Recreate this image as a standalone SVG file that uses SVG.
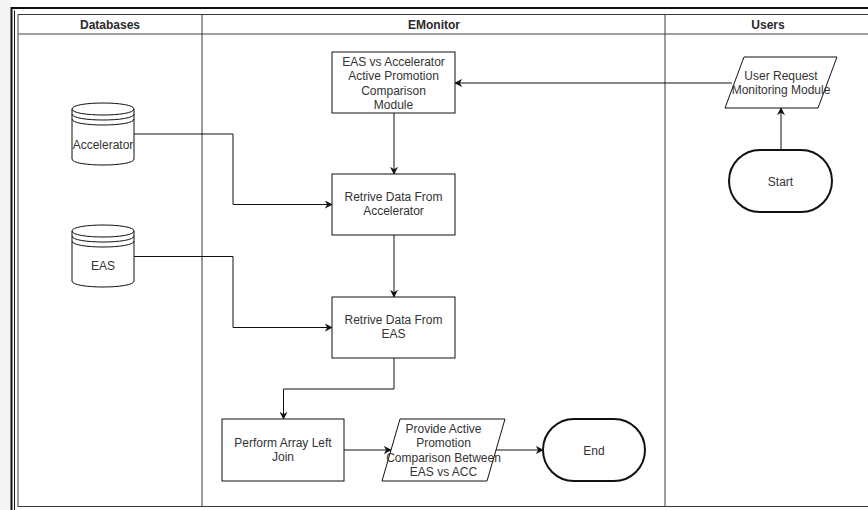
<svg xmlns="http://www.w3.org/2000/svg" width="868" height="510" viewBox="0 0 868 510">
  <style>
    text { font-family: "Liberation Sans", Arial, sans-serif; font-size: 12px; fill: #333333; text-anchor: middle; }
    .hdr { font-weight: bold; fill: #2a2a2a; }
    .lane { fill: none; stroke: #3a3a3a; stroke-width: 1; }
    .sep { fill: none; stroke: #808080; stroke-width: 1.6; }
    .shape { fill: #ffffff; stroke: #111111; stroke-width: 1; }
    .term { fill: #ffffff; stroke: #111111; stroke-width: 2; }
    .edge { fill: none; stroke: #111111; stroke-width: 1; }
  </style>
  <defs>
    <marker id="arrow" viewBox="0 0 10 10" refX="9" refY="5" markerWidth="8" markerHeight="8" markerUnits="userSpaceOnUse" orient="auto">
      <path d="M0,0 L10,5 L0,10 L3,5 Z" fill="#111111"/>
    </marker>
  </defs>

  <rect x="0" y="0" width="868" height="510" fill="#ffffff"/>
  <rect x="0" y="0" width="11" height="510" fill="#f3f4f6"/>

  <!-- window frame -->
  <path d="M11.5,510 V8 H868" fill="none" stroke="#111" stroke-width="2"/>
  <path d="M14.5,510 V10.5" fill="none" stroke="#111" stroke-width="1"/>

  <!-- swimlane table -->
  <g id="pool">
    <rect x="18" y="14.5" width="860" height="492" class="lane"/>
    <line x1="18" y1="34" x2="868" y2="34" class="sep"/>
    <line x1="202" y1="14.5" x2="202" y2="506.5" class="lane"/>
    <line x1="665" y1="14.5" x2="665" y2="506.5" class="lane"/>
    <text x="110" y="28.5" class="hdr">Databases</text>
    <text x="434" y="28.5" class="hdr">EMonitor</text>
    <text x="768" y="28.5" class="hdr">Users</text>
  </g>

  <!-- connectors -->
  <g id="connectors">
    <path d="M732,83 H455" class="edge" marker-end="url(#arrow)"/>
    <path d="M781,150 V108" class="edge" marker-end="url(#arrow)"/>
    <path d="M394,113 V174" class="edge" marker-end="url(#arrow)"/>
    <path d="M134,134 H233 V204.5 H332" class="edge" marker-end="url(#arrow)"/>
    <path d="M394,235 V297" class="edge" marker-end="url(#arrow)"/>
    <path d="M134,256.5 H233 V327.5 H332" class="edge" marker-end="url(#arrow)"/>
    <path d="M394,358 V389 H283.5 V419" class="edge" marker-end="url(#arrow)"/>
    <path d="M344,450 H391" class="edge" marker-end="url(#arrow)"/>
    <path d="M496,450 H543" class="edge" marker-end="url(#arrow)"/>
  </g>

  <g id="db-accelerator" transform="translate(72,103)">
    <path d="M0,6 C0,-2 62,-2 62,6 V56 C62,64 0,64 0,56 Z" class="shape"/>
    <path d="M0,6 C0,14 62,14 62,6 M0,11 C0,19 62,19 62,11 M0,16 C0,24 62,24 62,16" class="edge"/>
    <text x="31" y="45.5">Accelerator</text>
  </g>

  <g id="db-eas" transform="translate(72,225)">
    <path d="M0,6 C0,-2 62,-2 62,6 V56 C62,64 0,64 0,56 Z" class="shape"/>
    <path d="M0,6 C0,14 62,14 62,6 M0,11 C0,19 62,19 62,11 M0,16 C0,24 62,24 62,16" class="edge"/>
    <text x="31" y="45">EAS</text>
  </g>

  <g id="comparison-module">
    <rect x="332" y="52" width="123" height="61" class="shape"/>
    <text x="393.5" y="65.7">EAS vs Accelerator</text>
    <text x="393.5" y="80.1">Active Promotion</text>
    <text x="393.5" y="94.5">Comparison</text>
    <text x="393.5" y="108.9">Module</text>
  </g>

  <g id="retrieve-accelerator">
    <rect x="332" y="174" width="123" height="61" class="shape"/>
    <text x="393.5" y="201">Retrive Data From</text>
    <text x="393.5" y="215.4">Accelerator</text>
  </g>

  <g id="retrieve-eas">
    <rect x="332" y="297" width="123" height="61" class="shape"/>
    <text x="393.5" y="324">Retrive Data From</text>
    <text x="393.5" y="338.4">EAS</text>
  </g>

  <g id="left-join">
    <rect x="222" y="419" width="122" height="62" class="shape"/>
    <text x="283" y="447">Perform Array Left</text>
    <text x="283" y="461.4">Join</text>
  </g>

  <g id="provide-comparison">
    <polygon points="400,419 505,419 487,481 382,481" class="shape"/>
    <text x="443.5" y="432.7">Provide Active</text>
    <text x="443.5" y="447.1">Promotion</text>
    <text x="443.5" y="461.5">Comparison Between</text>
    <text x="443.5" y="475.9">EAS vs ACC</text>
  </g>

  <g id="end">
    <rect x="543" y="419" width="102" height="62" rx="31" ry="31" class="term"/>
    <text x="594" y="454.5">End</text>
  </g>

  <g id="user-request">
    <polygon points="744,57 837,57 818,108 725,108" class="shape"/>
    <text x="781" y="79.6">User Request</text>
    <text x="781" y="94">Monitoring Module</text>
  </g>

  <g id="start">
    <rect x="729" y="150" width="103" height="62" rx="31" ry="31" class="term"/>
    <text x="780.5" y="185.5">Start</text>
  </g>
</svg>
